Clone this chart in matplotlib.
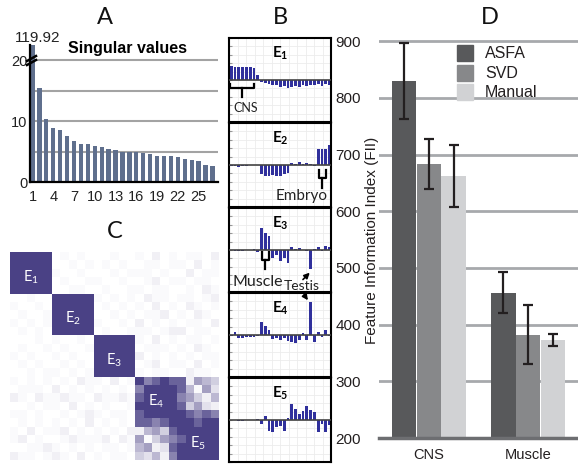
import numpy as np
import matplotlib.pyplot as plt
from matplotlib.colors import LinearSegmentedColormap, PowerNorm
from matplotlib.patches import Rectangle

plt.rcParams['font.family'] = ['Liberation Sans', 'DejaVu Sans']
plt.rcParams['mathtext.fontset'] = 'custom'
plt.rcParams['mathtext.rm'] = 'Lato'
plt.rcParams['mathtext.bf'] = 'Lato:bold'

W, H = 578, 466

# ---- A: singular values ----
sv_values = [119.92, 15.5, 10.3, 8.85, 8.6, 7.5, 6.7, 6.3, 6.2, 5.85, 5.7, 5.35, 5.2,
             5.0, 5.0, 4.85, 4.7, 4.55, 4.25, 4.25, 4.25, 4.05, 3.7, 3.55, 3.4, 2.8, 2.6]
sv_ticks = [1, 4, 7, 10, 13, 16, 19, 22, 25]

# ---- B: factor loadings ----
e1 = [0.34, 0.32, 0.32, 0.31, 0.30, 0.30, 0.29, 0.13, -0.05, -0.08, -0.10, -0.13, -0.12, -0.16,
      -0.15, -0.18, -0.17, -0.14, -0.16, -0.12, -0.15, -0.11, -0.13, -0.09, -0.14, -0.10, -0.12]
e2 = [-0.02, -0.03, -0.04, -0.03, -0.02, 0.0, 0.0, 0.0, -0.22, -0.26, -0.25, -0.24, -0.25, -0.25,
      -0.22, -0.18, 0.05, 0.02, 0.06, 0.02, 0.05, 0.02, -0.03, 0.38, 0.39, 0.38, 0.48]
e3 = [0.0, -0.02, -0.02, -0.02, 0.0, 0.0, 0.03, -0.04, 0.52, 0.40, 0.34, -0.18, -0.12, -0.25,
      -0.20, -0.32, 0.06, 0.03, 0.04, 0.0, -0.02, -0.45, 0.02, 0.06, -0.03, 0.10, 0.08]
e4 = [-0.02, 0.08, -0.06, -0.06, -0.04, -0.05, -0.04, -0.02, 0.30, 0.22, 0.13, -0.10, -0.06, -0.12,
      -0.08, -0.15, -0.16, -0.19, -0.12, 0.05, -0.12, 0.79, -0.16, 0.07, -0.05, 0.11, -0.03]
e5 = [-0.01, -0.01, -0.03, -0.03, 0.0, 0.0, 0.0, 0.03, -0.10, 0.10, -0.25, -0.28, -0.17, -0.15,
      -0.26, 0.05, 0.38, 0.27, 0.14, 0.22, 0.33, 0.25, 0.20, -0.28, -0.10, -0.29, -0.12]
factors = [e1, e2, e3, e4, e5]

# ---- C: factor similarity (upper triangle, digits 0-9) ----
corr_rows = [
    "99999" "01010" "00100" "10201" "01102",
    "99999" "00101" "01010" "01101" "10201",
    "99999" "10010" "00101" "11010" "02011",
    "99999" "01001" "10010" "01201" "10110",
    "99999" "00110" "01001" "10110" "01021",
    "00000" "99999" "10101" "02110" "11012",
    "00000" "99999" "01010" "10201" "02101",
    "00000" "99999" "00101" "01120" "10210",
    "00000" "99999" "10010" "20101" "01102",
    "00000" "99999" "01001" "11012" "20110",
    "00000" "00000" "99999" "10201" "01101",
    "00000" "00000" "99999" "01110" "10210",
    "00000" "00000" "99999" "20101" "01011",
    "00000" "00000" "99999" "01201" "10201",
    "00000" "00000" "99999" "10110" "02110",
    "00000" "00000" "00000" "97898" "82654",
    "00000" "00000" "00000" "09999" "85163",
    "00000" "00000" "00000" "00999" "76425",
    "00000" "00000" "00000" "00099" "84632",
    "00000" "00000" "00000" "00009" "98787",
    "00000" "00000" "00000" "00000" "99899",
    "00000" "00000" "00000" "00000" "09999",
    "00000" "00000" "00000" "00000" "00999",
    "00000" "00000" "00000" "00000" "00099",
    "00000" "00000" "00000" "00000" "00009",
]

# ---- D: feature information index ----
fii_groups = ['CNS', 'Muscle']
fii_methods = ['ASFA', 'SVD', 'Manual']
asfa_mean = [830, 456]
asfa_err = [67, 36]
svd_mean = [683, 382]
svd_err = [44, 52]
manual_mean = [662, 373]
manual_err = [55, 10]
fii_colors = ['#58595b', '#87888a', '#d1d2d4']


def px_box(left, top, right, bottom):
    return [left / W, 1 - bottom / H, (right - left) / W, (bottom - top) / H]


fig = plt.figure(figsize=(W / 100, H / 100), dpi=100)

# A
axA = fig.add_axes(px_box(30, 45, 218, 182))
rank = np.arange(1, len(sv_values) + 1)
axA.bar(rank, sv_values, width=0.62, color='#5f6f8d', zorder=2)
axA.set_xlim(0.64, 27.8)
axA.set_ylim(0, 22.5)
axA.set_yticks([0, 5, 10, 15, 20], ['0', '', '10', '', '20'])
axA.set_xticks(sv_ticks)
axA.yaxis.grid(True, color='#a3a3a3', lw=1.5)
axA.set_axisbelow(True)
for s in ['top', 'right']:
    axA.spines[s].set_visible(False)
for s in ['left', 'bottom']:
    axA.spines[s].set_linewidth(1.6)
axA.tick_params(length=0, labelsize=10.5, colors='#222222')
axA.tick_params(axis='x', pad=6)
axA.tick_params(axis='y', pad=2)

# B
for k, vals in enumerate(factors):
    top = 38 + 85 * k
    ax = fig.add_axes(px_box(229, top, 331, top + 84))
    idx = np.arange(len(vals))
    ax.bar(idx, vals, width=0.72, color='#30309c', zorder=2)
    ax.axhline(0, color='#444444', lw=1.2, zorder=3)
    ax.set_xlim(-0.6, 26.4)
    ax.set_ylim(-1, 1)
    ax.set_xticks(np.linspace(-0.6, 26.4, 13))
    ax.set_yticks(np.linspace(-1, 1, 11))
    ax.grid(True, color='#ececec', lw=0.6)
    ax.set_axisbelow(True)
    ax.tick_params(labelleft=False, labelbottom=False)
    ax.tick_params(axis='x', length=0)
    ax.tick_params(axis='y', length=2.5, direction='in', color='#999999')
    for s in ax.spines.values():
        s.set_linewidth(1.5)
    ax.text(0.5, 1 - 15 / 84, r'$\mathbf{E_%d}$' % (k + 1), transform=ax.transAxes,
            ha='center', va='center', fontsize=11)

# C
M = np.array([[int(c) for c in row] for row in corr_rows], dtype=float)
M = np.triu(M) + np.triu(M, 1).T
cmap = LinearSegmentedColormap.from_list('wp', ['#ffffff', '#4a4185'])
axC = fig.add_axes(px_box(10, 252, 219, 460))
axC.imshow(M / 9, cmap=cmap, norm=PowerNorm(1.7, 0, 1), aspect='auto', interpolation='nearest')
axC.axis('off')
for k in range(5):
    axC.text(5 * k + 2, 5 * k + 2.5, r'$\mathrm{E_%d}$' % (k + 1), color='white',
             ha='center', va='center', fontsize=10.5)

# D
ylo, yhi = 200, 910
axD = fig.add_axes(px_box(379, 438 - (yhi - ylo) * 0.567, 578, 438))
x = np.arange(len(fii_groups))
means = [asfa_mean, svd_mean, manual_mean]
errs = [asfa_err, svd_err, manual_err]
for k in range(3):
    xs = x + (k - 1) * 0.25
    axD.bar(xs, means[k], width=0.245, color=fii_colors[k], zorder=2)
    axD.errorbar(xs, means[k], yerr=errs[k], fmt='none', ecolor='#231f20',
                 elinewidth=1.6, capsize=3.5, capthick=1.6, zorder=3)
axD.set_xlim(-0.5, 1.5)
axD.set_ylim(ylo, yhi)
axD.set_yticks(range(200, 901, 100))
axD.set_xticks(x, fii_groups)
axD.yaxis.grid(True, color='#a7a9ac', lw=2)
axD.set_axisbelow(True)
for s in ['top', 'right', 'left']:
    axD.spines[s].set_visible(False)
axD.spines['bottom'].set_linewidth(2.5)
axD.spines['bottom'].set_color('#6d6e71')
axD.tick_params(length=0, labelsize=11, colors='#231f20')
axD.tick_params(axis='y', pad=13)
axD.tick_params(axis='x', pad=7, labelsize=10.5)

# overlay for letters and annotations (pixel coordinates)
ov = fig.add_axes([0, 0, 1, 1], zorder=10)
ov.set_xlim(0, W)
ov.set_ylim(H, 0)
ov.axis('off')

for letter, lx, ly in [('A', 105, 18), ('B', 280, 18), ('C', 115, 232), ('D', 490, 18)]:
    ov.text(lx, ly, letter, fontsize=17, family='Lato', ha='center', va='center', color='#111111')

ov.text(38, 38, '119.92', fontsize=11, ha='center', va='center', color='#222222')
ov.text(127, 48, 'Singular values', fontsize=11.5, fontweight='bold', ha='center', va='center')
ov.plot([27, 36], [61, 56], color='k', lw=1.8)
ov.plot([27, 36], [65, 60], color='k', lw=1.8)


def bracket(x0, x1, ytop, ybar, ystem):
    xm = (x0 + x1) / 2
    ov.plot([x0, x0, x1, x1], [ytop, ybar, ybar, ytop], color='k', lw=1.6)
    ov.plot([xm, xm], [ybar, ystem], color='k', lw=1.6)


bracket(230, 254, 84, 88, 97)
ov.text(246, 108, 'CNS', fontsize=9, family='Lato', ha='center', va='center', color='#222222')
bracket(318.5, 326, 170, 178, 188)
ov.text(302, 196, 'Embryo', fontsize=11, family='Lato', ha='center', va='center', color='#222222')
bracket(261.5, 268.5, 252, 260, 269)
ov.text(258, 282, 'Muscle', fontsize=11.5, family='Lato', ha='center', va='center', color='#222222')
ov.text(302, 286, 'Testis', fontsize=10, family='Lato', ha='center', va='center', color='#222222')
ov.annotate('', xy=(311.7, 270.7), xytext=(301, 281.5),
            arrowprops=dict(arrowstyle='-|>', color='k', lw=1.2, mutation_scale=8))
ov.annotate('', xy=(309.5, 302.5), xytext=(302.5, 292.5),
            arrowprops=dict(arrowstyle='-|>', color='k', lw=1.2, mutation_scale=8))

ov.text(372, 240, 'Feature Information Index (FII)', rotation=90, fontsize=11,
        ha='center', va='center', color='#231f20')
for k, name in enumerate(fii_methods):
    ov.add_patch(Rectangle((457, 45 + 19.5 * k), 16, 16, color=fii_colors[k]))
    ov.text(485, 53.5 + 19.5 * k, name, fontsize=11.5, va='center', color='#231f20')

fig.savefig('out.png', dpi=100)
